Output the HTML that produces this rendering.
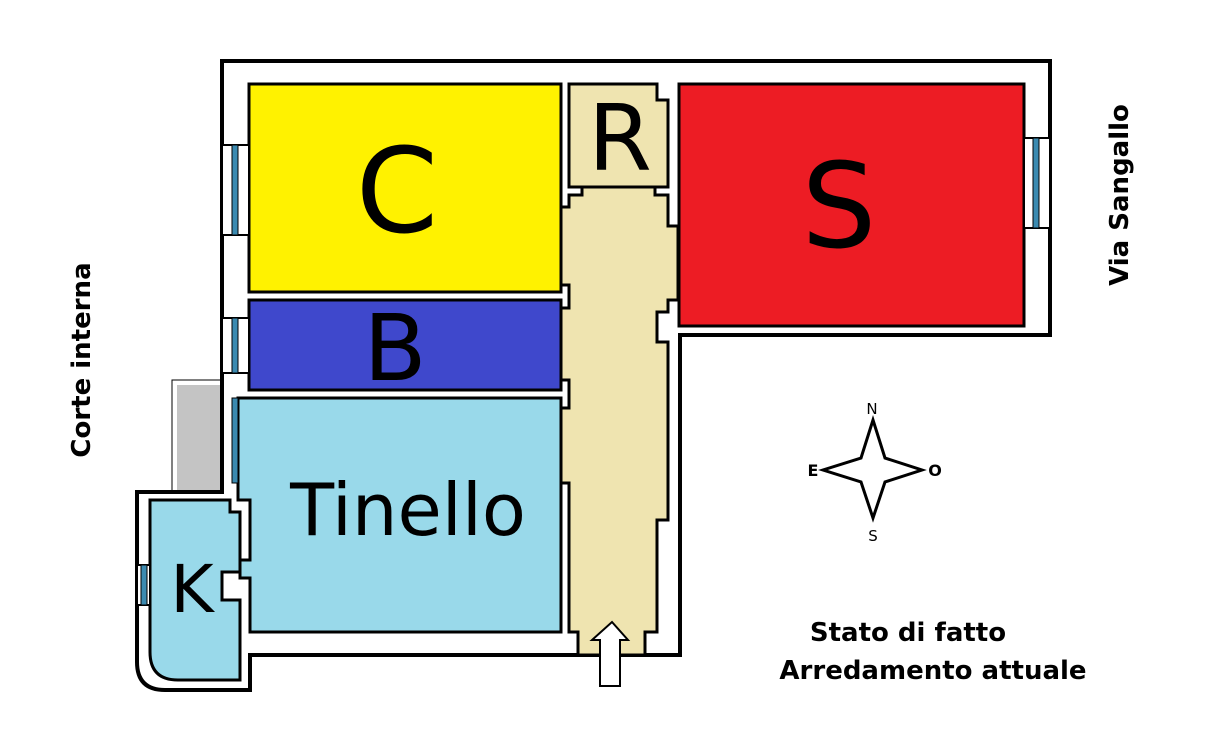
<!DOCTYPE html>
<html><head><meta charset="utf-8"><style>
html,body{margin:0;padding:0;background:#fff;}
svg{display:block;}
text{font-family:"DejaVu Sans","Liberation Sans",sans-serif;}
</style></head><body>
<svg width="1224" height="735" viewBox="0 0 1224 735" xmlns="http://www.w3.org/2000/svg">
<!-- balcony -->
<rect x="172" y="380" width="60" height="112" fill="#fff" stroke="#000" stroke-width="1"/>
<rect x="177" y="385" width="55" height="107" fill="#c4c4c4"/>
<!-- outer shell -->
<path d="M222,61 H1050 V335 H680 V655 H250 V690 H165 Q137,690 137,662 V492 H222 V398 H222 V61 Z" fill="#fff" stroke="#000" stroke-width="4"/>
<!-- rooms -->
<rect x="249" y="84" width="312" height="208" fill="#fff200" stroke="#000" stroke-width="3"/>
<rect x="679" y="84" width="345" height="242" fill="#ed1c24" stroke="#000" stroke-width="3"/>
<path d="M249,300 H561 V390 H249 Z" fill="#3f48cc" stroke="#000" stroke-width="3"/>
<path d="M238,398 H561 V632 H250 V578 H240 V560 H250 V500 H238 Z" fill="#99d9ea" stroke="#000" stroke-width="3"/>
<path d="M150,500 H230 V512 H240 V572 H222 V600 H240 V680 H178 Q150,680 150,652 Z" fill="#99d9ea" stroke="#000" stroke-width="3"/>
<path d="M569,84 H657 V100 H668 V187 H569 Z" fill="#efe4b0" stroke="#000" stroke-width="3"/>
<!-- hall -->
<path d="M561,207 H569 V195 H582 V187 H655 V195 H668 V226 H678 V300 H668 V312 H657 V342 H668 V520 H657 V632 H645 V655 H578 V632 H569 V483 H561 V408 H569 V380 H561 V308 H569 V285 H561 Z" fill="#efe4b0" stroke="#000" stroke-width="3"/>
<line x1="569" y1="187" x2="657" y2="187" stroke="#000" stroke-width="1.5"/>
<!-- entry arrow -->
<path d="M612,622 L628,640 H620 V686 H600 V640 H592 Z" fill="#fff" stroke="#000" stroke-width="2"/>
<!-- windows -->
<g stroke="#000" stroke-width="1">
<rect x="222" y="145" width="27" height="90" fill="#fff" stroke-width="2"/>
<rect x="232" y="145" width="6" height="90" fill="#3b8ab0"/>
<rect x="222" y="318" width="27" height="55" fill="#fff" stroke-width="2"/>
<rect x="232" y="318" width="6" height="55" fill="#3b8ab0"/>
<rect x="1024" y="138" width="26" height="90" fill="#fff" stroke-width="2"/>
<rect x="1033" y="138" width="6" height="90" fill="#3b8ab0"/>
<rect x="232" y="398" width="6" height="85" fill="#3b8ab0"/>
<rect x="137" y="565" width="13" height="40" fill="#fff" stroke-width="2"/>
<rect x="141" y="565" width="6" height="40" fill="#3b8ab0"/>
</g>
<!-- room labels -->
<text x="397" y="232" font-size="118" text-anchor="middle">C</text>
<text x="620" y="170" font-size="92" text-anchor="middle">R</text>
<text x="839" y="247" font-size="118" text-anchor="middle">S</text>
<text x="395" y="380" font-size="92" text-anchor="middle">B</text>
<text x="408" y="535" font-size="72" text-anchor="middle">Tinello</text>
<text x="192" y="612" font-size="66" text-anchor="middle">K</text>
<!-- compass -->
<path d="M873,420 L885,458 L922,470 L885,482 L873,518 L861,482 L823,470 L861,458 Z" fill="#fff" stroke="#000" stroke-width="3"/>
<text x="872" y="414" font-size="15" text-anchor="middle">N</text>
<text x="873" y="541" font-size="15" text-anchor="middle">S</text>
<text x="813" y="476" font-size="16" font-weight="bold" text-anchor="middle">E</text>
<text x="935" y="476" font-size="16" font-weight="bold" text-anchor="middle">O</text>
<!-- side labels -->
<text transform="translate(90,360) rotate(-90)" font-size="26" font-weight="bold" text-anchor="middle">Corte interna</text>
<text transform="translate(1128,195) rotate(-90)" font-size="26" font-weight="bold" text-anchor="middle">Via Sangallo</text>
<text x="908" y="641" font-size="26" font-weight="bold" text-anchor="middle">Stato di fatto</text>
<text x="933" y="679" font-size="26" font-weight="bold" text-anchor="middle">Arredamento attuale</text>
</svg>
</body></html>
